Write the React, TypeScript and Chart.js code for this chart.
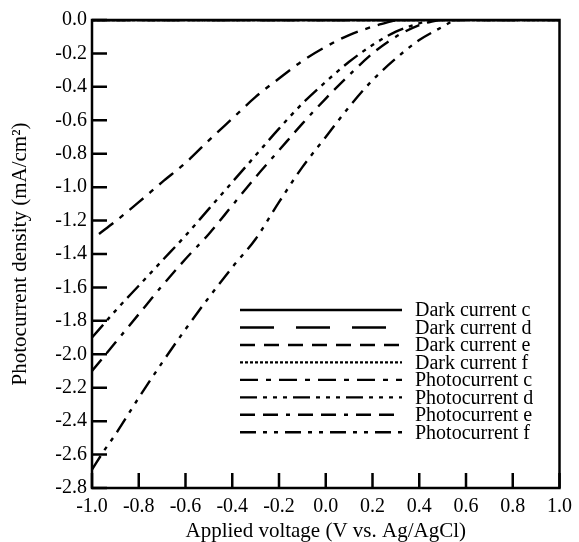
import React, { useEffect, useRef } from "react";
import { Chart, registerables } from "chart.js";

Chart.register(...registerables);

// ---- data ----
const xTickValues = [-1.0, -0.8, -0.6, -0.4, -0.2, 0.0, 0.2, 0.4, 0.6, 0.8, 1.0];
const yTickValues = [0.0, -0.2, -0.4, -0.6, -0.8, -1.0, -1.2, -1.4, -1.6, -1.8, -2.0, -2.2, -2.4, -2.6, -2.8];

const seriesLabels = [
  "Dark current c",
  "Dark current d",
  "Dark current e",
  "Dark current f",
  "Photocurrent c",
  "Photocurrent d",
  "Photocurrent e",
  "Photocurrent f",
];

const vDark = [-1.0, -0.5, 0.0, 0.5, 1.0];
const jDarkC = [0, 0, 0, 0, 0];
const jDarkD = [0, 0, 0, 0, 0];
const jDarkE = [0, 0, 0, 0, 0];
const jDarkF = [0, 0, 0, 0, 0];

const vPhotoC = [-0.97, -0.9, -0.8, -0.7, -0.6, -0.5, -0.4, -0.3, -0.2, -0.1, 0.0, 0.1, 0.2, 0.3];
const jPhotoC = [-1.28, -1.205, -1.09, -0.97, -0.855, -0.72, -0.59, -0.46, -0.35, -0.245, -0.16, -0.09, -0.04, 0.0];

const vPhotoD = [-1.0, -0.9, -0.8, -0.7, -0.6, -0.5, -0.4, -0.3, -0.2, -0.1, 0.0, 0.1, 0.2, 0.3, 0.4, 0.45];
const jPhotoD = [-1.9, -1.74, -1.59, -1.44, -1.29, -1.13, -0.97, -0.81, -0.65, -0.5, -0.37, -0.25, -0.15, -0.07, -0.02, 0.0];

const vPhotoE = [-1.0, -0.9, -0.8, -0.7, -0.6, -0.5, -0.4, -0.3, -0.2, -0.1, 0.0, 0.1, 0.2, 0.3, 0.4, 0.48];
const jPhotoE = [-2.1, -1.93, -1.76, -1.59, -1.43, -1.28, -1.11, -0.94, -0.78, -0.62, -0.47, -0.33, -0.2, -0.1, -0.03, 0.0];

const vPhotoF = [-1.0, -0.95, -0.9, -0.8, -0.7, -0.6, -0.5, -0.4, -0.3, -0.2, -0.1, 0.0, 0.1, 0.2, 0.3, 0.4, 0.5, 0.55];
const jPhotoF = [-2.69, -2.58, -2.48, -2.26, -2.05, -1.85, -1.66, -1.48, -1.31, -1.09, -0.88, -0.7, -0.52, -0.36, -0.23, -0.12, -0.04, 0.0];

// ---- styles ----
const FONT = "'Liberation Serif', 'Times New Roman', Times, serif";
const dashes: number[][] = [
  [],
  [34, 22],
  [15, 9],
  [3, 2],
  [18, 8, 5, 8],
  [17, 6, 4, 6, 4, 6, 4, 6],
  [15, 8, 15, 8, 4, 8],
  [16, 7, 4, 7, 4, 7],
];

const toPoints = (xs: number[], ys: number[]) => xs.map((x, i) => ({ x, y: ys[i] }));

const fmt = (v: number) => (Math.abs(v) < 1e-9 ? 0 : v).toFixed(1);

const framePlugin = {
  id: "frameLegend",
  afterDraw(chart: any) {
    const { ctx, chartArea, scales } = chart;
    const { left, right, top, bottom } = chartArea;
    ctx.save();
    ctx.setLineDash([]);
    ctx.strokeStyle = "#000";
    ctx.lineWidth = 2.5;
    ctx.strokeRect(left, top, right - left, bottom - top);
    // inward ticks
    ctx.beginPath();
    yTickValues.forEach((v) => {
      const py = scales.y.getPixelForValue(v);
      ctx.moveTo(left, py);
      ctx.lineTo(left + 15, py);
    });
    xTickValues.forEach((v) => {
      const px = scales.x.getPixelForValue(v);
      ctx.moveTo(px, bottom);
      ctx.lineTo(px, bottom - 15);
    });
    ctx.stroke();

    // legend
    const lx0 = left + 148;
    const lx1 = left + 310;
    const tx = left + 323;
    const ly0 = top + 290;
    const step = 17.47;
    ctx.font = `20px ${FONT}`;
    ctx.fillStyle = "#000";
    ctx.textAlign = "left";
    ctx.textBaseline = "middle";
    chart.data.datasets.forEach((ds: any, i: number) => {
      const yy = ly0 + i * step;
      ctx.lineWidth = 2.4;
      ctx.setLineDash(ds.borderDash || []);
      ctx.beginPath();
      ctx.moveTo(lx0, yy);
      ctx.lineTo(lx1, yy);
      ctx.stroke();
      ctx.setLineDash([]);
      ctx.fillText(ds.label, tx, yy + 1);
    });
    ctx.restore();
  },
};

export default function App() {
  const canvasRef = useRef<HTMLCanvasElement | null>(null);

  useEffect(() => {
    if (!canvasRef.current) return;
    const seriesData = [
      toPoints(vDark, jDarkC),
      toPoints(vDark, jDarkD),
      toPoints(vDark, jDarkE),
      toPoints(vDark, jDarkF),
      toPoints(vPhotoC, jPhotoC),
      toPoints(vPhotoD, jPhotoD),
      toPoints(vPhotoE, jPhotoE),
      toPoints(vPhotoF, jPhotoF),
    ];
    const chart = new Chart(canvasRef.current, {
      type: "line",
      data: {
        datasets: seriesData.map((d, i) => ({
          label: seriesLabels[i],
          data: d,
          borderColor: "#000",
          backgroundColor: "#000",
          borderWidth: 2.4,
          borderDash: dashes[i],
          pointRadius: 0,
          fill: false,
          cubicInterpolationMode: "monotone" as const,
        })),
      },
      options: {
        animation: false,
        responsive: false,
        devicePixelRatio: 1,
        layout: { padding: { left: 0, top: 20, right: 19, bottom: 0 } },
        plugins: {
          legend: { display: false },
          tooltip: { enabled: false },
        },
        scales: {
          x: {
            type: "linear",
            min: -1,
            max: 1,
            afterFit: (s: any) => {
              s.height = 54;
            },
            afterBuildTicks: (s: any) => {
              s.ticks = xTickValues.map((v) => ({ value: v }));
            },
            ticks: {
              callback: (v: any) => fmt(Number(v)),
              font: { family: FONT, size: 20 },
              color: "#000",
              padding: 7,
              maxRotation: 0,
              autoSkip: false,
            },
            grid: { display: false, drawTicks: false },
            border: { display: false },
            title: {
              display: true,
              text: "Applied voltage (V vs. Ag/AgCl)",
              font: { family: FONT, size: 21, lineHeight: 1.0 },
              color: "#000",
              padding: { top: 0, bottom: 0 },
            },
          },
          y: {
            type: "linear",
            min: -2.8,
            max: 0,
            afterFit: (s: any) => {
              s.width = 92;
            },
            afterBuildTicks: (s: any) => {
              s.ticks = yTickValues.map((v) => ({ value: v }));
            },
            ticks: {
              callback: (v: any) => fmt(Number(v)),
              font: { family: FONT, size: 20 },
              color: "#000",
              padding: 5,
              autoSkip: false,
            },
            grid: { display: false, drawTicks: false },
            border: { display: false },
            title: {
              display: true,
              text: "Photocurrent density (mA/cm²)",
              font: { family: FONT, size: 21, lineHeight: 1.0 },
              color: "#000",
              padding: { top: 10, bottom: 0 },
            },
          },
        },
      },
      plugins: [framePlugin],
    });
    return () => chart.destroy();
  }, []);

  return (
    <div style={{ position: "absolute", left: 0, top: 0, width: 579, height: 542, background: "#fff" }}>
      <canvas ref={canvasRef} width={579} height={542} style={{ display: "block" }} />
    </div>
  );
}
